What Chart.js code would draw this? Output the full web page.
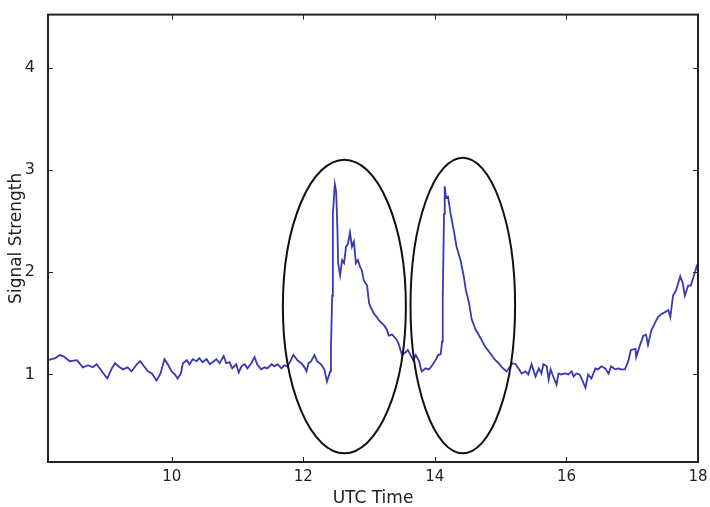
<!DOCTYPE html>
<html>
<head>
<meta charset="utf-8">
<script src="https://cdn.jsdelivr.net/npm/chart.js@4"></script>
<style>
  body { margin: 0; background: #fff; }
  canvas { display: block; }
</style>
</head>
<body>
<canvas id="signalChart" width="710" height="507"></canvas>
<script>
// UTC time (hours)
const times = [
    8.12, 8.23, 8.30, 8.35, 8.45, 8.56, 8.65, 8.73, 8.80, 8.86, 8.94, 9.02, 9.09, 9.14, 9.21, 9.26, 9.33, 9.39, 9.47, 9.52,
    9.58, 9.64, 9.70, 9.77, 9.83, 9.89, 9.94, 10.00, 10.05, 10.09, 10.14, 10.17, 10.23, 10.27, 10.32, 10.38, 10.42, 10.47, 10.53, 10.58,
    10.64, 10.68, 10.73, 10.79, 10.83, 10.88, 10.92, 10.98, 11.02, 11.06, 11.11, 11.15, 11.21, 11.26, 11.30, 11.36, 11.41, 11.45, 11.52, 11.56,
    11.61, 11.67, 11.71, 11.76, 11.82, 11.85, 11.91, 11.97, 12.02, 12.05, 12.08, 12.12, 12.17, 12.21, 12.27, 12.32, 12.36, 12.41, 12.42, 12.44,
    12.45, 12.48, 12.50, 12.52, 12.53, 12.56, 12.59, 12.62, 12.65, 12.68, 12.71, 12.74, 12.77, 12.80, 12.83, 12.86, 12.89, 12.92, 12.97, 13.00,
    13.03, 13.08, 13.12, 13.15, 13.18, 13.23, 13.27, 13.30, 13.35, 13.41, 13.45, 13.50, 13.56, 13.59, 13.67, 13.71, 13.76, 13.80, 13.86, 13.91,
    13.95, 14.02, 14.05, 14.09, 14.11, 14.12, 14.14, 14.15, 14.17, 14.20, 14.24, 14.29, 14.33, 14.39, 14.44, 14.47, 14.52, 14.56, 14.62, 14.70,
    14.74, 14.79, 14.85, 14.92, 14.97, 15.02, 15.09, 15.18, 15.23, 15.27, 15.32, 15.38, 15.42, 15.47, 15.53, 15.58, 15.62, 15.65, 15.70, 15.73,
    15.76, 15.80, 15.85, 15.88, 15.92, 15.98, 16.03, 16.08, 16.11, 16.15, 16.20, 16.23, 16.29, 16.33, 16.38, 16.44, 16.48, 16.53, 16.59, 16.64,
    16.68, 16.74, 16.79, 16.83, 16.89, 16.94, 16.98, 17.05, 17.06, 17.12, 17.17, 17.21, 17.24, 17.29, 17.35, 17.39, 17.44, 17.50, 17.55, 17.58,
    17.62, 17.67, 17.73, 17.77, 17.80, 17.85, 17.89, 17.95, 17.98, 18.00
];

const signal = [
    1.14, 1.16, 1.19, 1.18, 1.13, 1.14, 1.07, 1.09, 1.07, 1.10, 1.03, 0.96, 1.06, 1.11, 1.07, 1.05, 1.07, 1.03, 1.10, 1.13,
    1.08, 1.03, 1.01, 0.94, 1.01, 1.15, 1.10, 1.03, 1.00, 0.96, 1.01, 1.11, 1.14, 1.10, 1.15, 1.13, 1.16, 1.12, 1.15, 1.10,
    1.13, 1.15, 1.11, 1.18, 1.11, 1.12, 1.06, 1.10, 1.02, 1.08, 1.10, 1.06, 1.11, 1.17, 1.10, 1.05, 1.07, 1.06, 1.10, 1.08,
    1.10, 1.06, 1.09, 1.08, 1.15, 1.19, 1.14, 1.11, 1.07, 1.03, 1.11, 1.13, 1.19, 1.13, 1.10, 1.05, 0.93, 1.03, 1.25, 1.77,
    2.57, 2.86, 2.79, 2.40, 2.09, 1.97, 2.12, 2.09, 2.25, 2.28, 2.39, 2.25, 2.30, 2.09, 2.12, 2.06, 2.02, 1.92, 1.87, 1.70,
    1.65, 1.59, 1.56, 1.53, 1.51, 1.48, 1.44, 1.38, 1.39, 1.35, 1.30, 1.19, 1.22, 1.24, 1.14, 1.19, 1.13, 1.03, 1.06, 1.05,
    1.08, 1.15, 1.19, 1.20, 1.32, 1.77, 2.57, 2.84, 2.73, 2.74, 2.57, 2.40, 2.25, 2.12, 1.96, 1.83, 1.70, 1.54, 1.44, 1.35,
    1.30, 1.25, 1.20, 1.14, 1.11, 1.07, 1.03, 1.11, 1.10, 1.06, 1.01, 1.03, 1.00, 1.10, 0.98, 1.06, 1.01, 1.10, 1.08, 0.95,
    1.05, 0.98, 0.90, 1.01, 1.00, 1.01, 1.00, 1.03, 0.98, 1.01, 1.00, 0.96, 0.87, 1.00, 0.96, 1.06, 1.05, 1.08, 1.06, 1.01,
    1.08, 1.05, 1.06, 1.05, 1.05, 1.13, 1.24, 1.25, 1.17, 1.29, 1.38, 1.39, 1.29, 1.43, 1.51, 1.56, 1.59, 1.61, 1.63, 1.56,
    1.77, 1.83, 1.96, 1.89, 1.77, 1.87, 1.87, 1.99, 2.06, 2.04
];

const xTickValues = [10, 12, 14, 16, 18];
const yTickValues = [1, 2, 3, 4];

// circled events: [left, right] in hours, [bottom, top] in signal units
const circleX = [[11.69, 13.56], [13.63, 15.22]];
const circleY = [[0.23, 3.10], [0.23, 3.12]];

const frameAndMarks = {
    id: 'frameAndMarks',
    afterDatasetsDraw: (chart) => {
        const { ctx, chartArea: a, scales: { x, y } } = chart;
        ctx.save();

        // ellipses around the two peaks
        ctx.strokeStyle = '#111';
        ctx.lineWidth = 2;
        circleX.forEach((xr, i) => {
            const x0 = x.getPixelForValue(xr[0]);
            const x1 = x.getPixelForValue(xr[1]);
            const y0 = y.getPixelForValue(circleY[i][0]);
            const y1 = y.getPixelForValue(circleY[i][1]);
            ctx.beginPath();
            ctx.ellipse((x0 + x1) / 2, (y0 + y1) / 2, (x1 - x0) / 2, (y0 - y1) / 2, 0, 0, Math.PI * 2);
            ctx.stroke();
        });

        // box
        ctx.strokeStyle = '#222';
        ctx.lineWidth = 2;
        ctx.strokeRect(a.left, a.top, a.right - a.left, a.bottom - a.top);

        // inward ticks on all four sides
        ctx.lineWidth = 1;
        ctx.beginPath();
        xTickValues.forEach(v => {
            const px = Math.round(x.getPixelForValue(v)) + 0.5;
            ctx.moveTo(px, a.bottom); ctx.lineTo(px, a.bottom - 5);
            ctx.moveTo(px, a.top); ctx.lineTo(px, a.top + 5);
        });
        yTickValues.forEach(v => {
            const py = Math.round(y.getPixelForValue(v)) + 0.5;
            ctx.moveTo(a.left, py); ctx.lineTo(a.left + 5, py);
            ctx.moveTo(a.right, py); ctx.lineTo(a.right - 5, py);
        });
        ctx.stroke();
        ctx.restore();
    }
};

const ctx = document.getElementById('signalChart').getContext('2d');
new Chart(ctx, {
    type: 'line',
    data: {
        datasets: [{
            label: 'Signal Strength',
            data: times.map((t, i) => ({ x: t, y: signal[i] })),
            borderColor: '#3838b0',
            borderWidth: 1.8,
            pointRadius: 0,
            tension: 0,
            fill: false
        }]
    },
    options: {
        responsive: false,
        animation: false,
        layout: { padding: { top: 6, right: 12, left: 0, bottom: 0 } },
        plugins: {
            legend: { display: false },
            tooltip: { enabled: false }
        },
        scales: {
            x: {
                type: 'linear',
                min: 8.12,
                max: 18,
                grid: { display: false },
                border: { display: false },
                afterBuildTicks: (scale) => {
                    scale.ticks = xTickValues.map(v => ({ value: v }));
                },
                afterFit: (scale) => { scale.height = 45; },
                ticks: {
                    color: '#222',
                    font: { family: 'DejaVu Sans', size: 15 },
                    padding: -2,
                    maxRotation: 0
                },
                title: {
                    display: true,
                    text: 'UTC Time',
                    color: '#222',
                    font: { family: 'DejaVu Sans', size: 17 },
                    padding: { top: 0, bottom: -2 }
                }
            },
            y: {
                type: 'linear',
                min: 0.144,
                max: 4.52,
                grid: { display: false },
                border: { display: false },
                afterBuildTicks: (scale) => {
                    scale.ticks = yTickValues.map(v => ({ value: v }));
                },
                afterFit: (scale) => { scale.width = 48; },
                ticks: {
                    color: '#222',
                    font: { family: 'DejaVu Sans', size: 16 },
                    padding: 5
                },
                title: {
                    display: true,
                    text: 'Signal Strength',
                    color: '#222',
                    font: { family: 'DejaVu Sans', size: 17 },
                    padding: { top: 6, bottom: 0 }
                }
            }
        }
    },
    plugins: [frameAndMarks]
});
</script>
</body>
</html>
